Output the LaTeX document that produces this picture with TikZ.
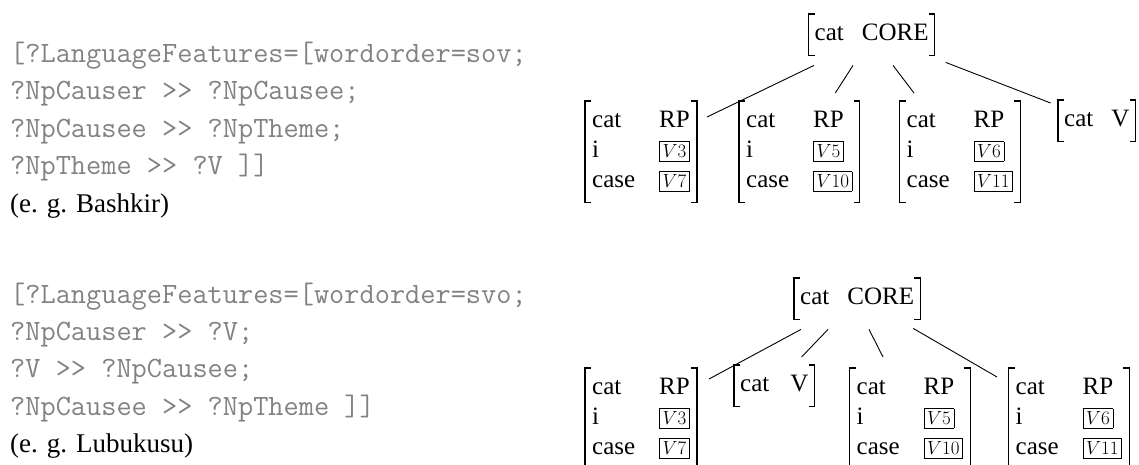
\RequirePackage{fix-cm}
\documentclass[tikz,border=0pt]{standalone}
\usepackage{fontspec}
\setmainfont{Liberation Serif}
\definecolor{codegray}{RGB}{130,130,130}
\newcommand{\bxv}[1]{{\setlength{\fboxsep}{2.8pt}\setlength{\fboxrule}{0.6pt}\fbox{\fontsize{19}{19}\selectfont$#1$}}}
\newcommand{\avmrp}[2]{\begin{tabular}{@{}l@{\hspace{24pt}}l@{}}cat & RP\\ i & \bxv{#1}\\ case & \bxv{#2}\end{tabular}}
\newcommand{\avmone}[2]{\begin{tabular}{@{}l@{\hspace{#2}}l@{}}cat & #1\end{tabular}}
\tikzset{
  code/.style={font=\fontsize{29.5}{32}\ttfamily, text=codegray, inner sep=0pt, anchor=base west},
  lang/.style={font=\fontsize{27}{30}\selectfont, inner sep=0pt, anchor=base west},
  avmbox/.style={font=\fontsize{25}{30}\selectfont, inner xsep=7pt, inner ysep=5.5pt, anchor=north west},
  avmsmall/.style={avmbox, inner xsep=6pt},
  brk/.style={line width=1.1pt},
  edge/.style={line width=0.9pt}
}
\begin{document}
\begin{tikzpicture}[x=1pt,y=-1pt]
\useasboundingbox (0,0) rectangle (1139,464);
% left texts, top
\node[code] (a1) at (10,62) {[?LanguageFeatures=[wordorder=sov;};
\node[code] (a2) at (10,99.5) {?NpCauser >> ?NpCausee;};
\node[code] (a3) at (10,137) {?NpCausee >> ?NpTheme;};
\node[code] (a4) at (10,174.5) {?NpTheme >> ?V ]]};
\node[lang] (a5) at (10,212) {(e. g. Bashkir)};
% left texts, bottom
\node[code] (b1) at (10,303) {[?LanguageFeatures=[wordorder=svo;};
\node[code] (b2) at (10,340.3) {?NpCauser >> ?V;};
\node[code] (b3) at (10,377.6) {?V >> ?NpCausee;};
\node[code] (b4) at (10,415) {?NpCausee >> ?NpTheme ]]};
\node[lang] (b5) at (10,452) {(e. g. Lubukusu)};
% top tree
\node[avmsmall] (coreT) at (808.5,14) {\avmone{CORE}{18pt}};
\node[avmbox] (rpA) at (585,101) {\avmrp{V3}{V7}};
\node[avmbox] (rpB) at (739,101) {\avmrp{V5}{V10}};
\node[avmbox] (rpC) at (899.5,101) {\avmrp{V6}{V11}};
\node[avmsmall] (vT) at (1058,100) {\avmone{V}{18pt}};
% bottom tree
\node[avmsmall] (coreB) at (794,278) {\avmone{CORE}{18pt}};
\node[avmbox] (rpD) at (585,368) {\avmrp{V3}{V7}};
\node[avmsmall] (vB) at (734,365) {\avmone{V}{21pt}};
\node[avmbox] (rpE) at (849.5,368) {\avmrp{V5}{V10}};
\node[avmbox] (rpF) at (1008.5,368) {\avmrp{V6}{V11}};
% brackets
\foreach \n in {coreT,rpA,rpB,rpC,vT,coreB,rpD,vB,rpE,rpF}{
  \draw[brk] ([xshift=6pt]\n.north west) -- (\n.north west) -- (\n.south west) -- ([xshift=6pt]\n.south west);
  \draw[brk] ([xshift=-6pt]\n.north east) -- (\n.north east) -- (\n.south east) -- ([xshift=-6pt]\n.south east);
}
% top connectors
\draw[edge] ([xshift=5.5pt,yshift=-10pt]coreT.south west) -- ([xshift=10pt,yshift=-16pt]rpA.north east);
\draw[edge] ([xshift=44.5pt,yshift=-10pt]coreT.south west) -- ([xshift=36pt,yshift=8pt]rpB.north);
\draw[edge] ([xshift=84.5pt,yshift=-10pt]coreT.south west) -- ([xshift=14.5pt,yshift=8pt]rpC.north west);
\draw[edge] ([xshift=11pt,yshift=-7pt]coreT.south east) -- ([xshift=-7.4pt,yshift=-3pt]vT.north west);
% bottom connectors
\draw[edge] ([xshift=7pt,yshift=-10pt]coreB.south west) -- ([xshift=12pt,yshift=-11pt]rpD.north east);
\draw[edge] ([xshift=34pt,yshift=-10pt]coreB.south west) -- ([xshift=-13pt,yshift=8pt]vB.north east);
\draw[edge] ([xshift=75pt,yshift=-10pt]coreB.south west) -- ([xshift=33.5pt,yshift=11pt]rpE.north west);
\draw[edge] ([xshift=-7pt,yshift=-9pt]coreB.south east) -- ([xshift=-11.5pt,yshift=-9pt]rpF.north west);
\end{tikzpicture}
\end{document}
